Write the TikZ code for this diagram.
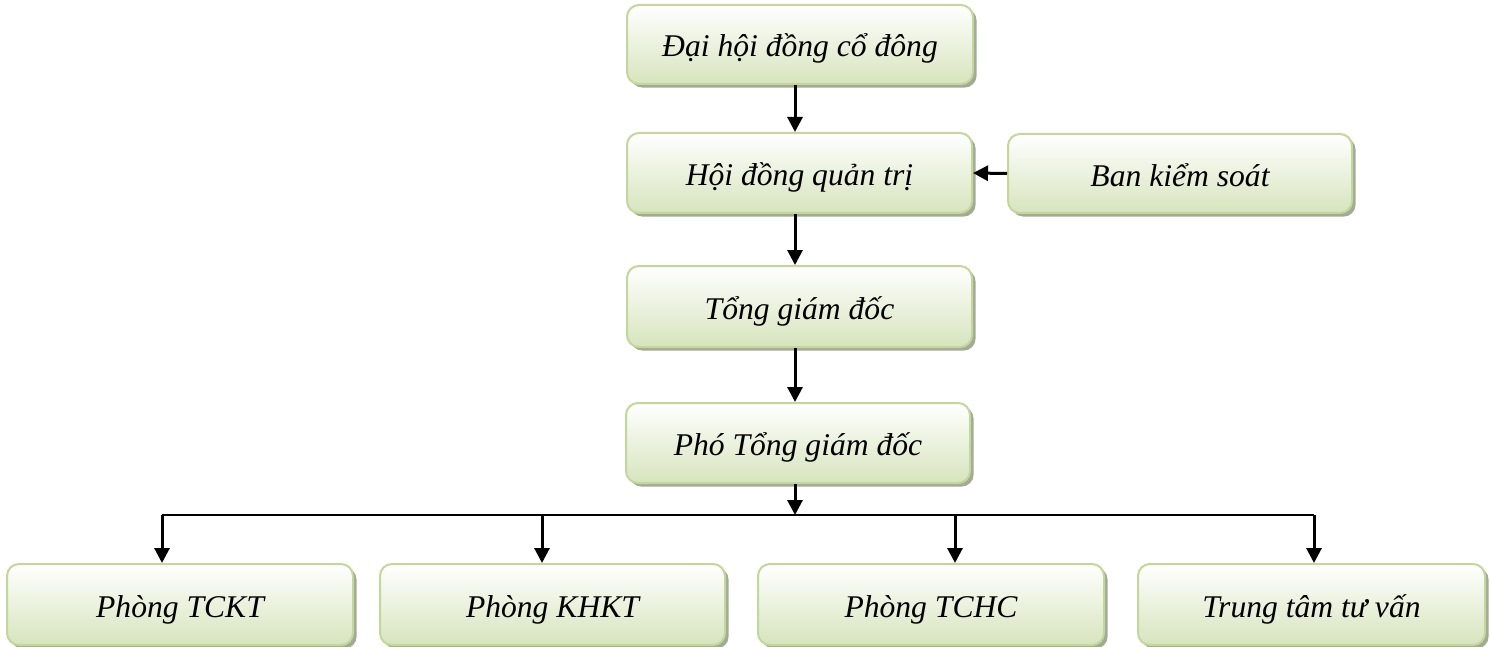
\documentclass[tikz,border=0pt]{standalone}
\usepackage{fontspec}
\setmainfont{Liberation Serif}
\usetikzlibrary{arrows.meta,shadows}
\definecolor{boxborder}{HTML}{C3D69B}
\definecolor{boxbottom}{HTML}{D7E4BD}
\definecolor{boxshadow}{HTML}{A3AA96}
\begin{document}
\begin{tikzpicture}[x=0.5pt,y=-0.5pt,
  orgbox/.style={rectangle, rounded corners=6pt, draw=boxborder, line width=1pt,
    top color=white, bottom color=boxbottom,
    drop shadow={shadow xshift=1.8pt, shadow yshift=-1.8pt, fill=boxshadow, opacity=1},
    inner sep=0pt, text height=14pt, text depth=1.5pt,
    font=\fontsize{15.8}{19}\selectfont\itshape},
  conn/.style={line width=1.5pt, -{Triangle[width=7.5pt,length=7.5pt]}},
  bus/.style={line width=1pt}]
\useasboundingbox (0,0) rectangle (1490,647);
\node[orgbox, minimum width=173pt, minimum height=39.5pt] (b1) at (800,44.5) {Đại hội đồng cổ đông};
\node[orgbox, minimum width=172.5pt, minimum height=40pt] (b2) at (799.5,173) {Hội đồng quản trị};
\node[orgbox, minimum width=172pt, minimum height=39.5pt] (bks) at (1180,173.5) {Ban kiểm soát};
\node[orgbox, minimum width=172.5pt, minimum height=40.5pt] (b3) at (799.5,306.5) {Tổng giám đốc};
\node[orgbox, minimum width=172pt, minimum height=40pt] (b4) at (798,443) {Phó Tổng giám đốc};
\node[orgbox, minimum width=173pt, minimum height=40.5pt] (p1) at (180,604.5) {Phòng TCKT};
\node[orgbox, minimum width=172.5pt, minimum height=40.5pt] (p2) at (552.5,604.5) {Phòng KHKT};
\node[orgbox, minimum width=173pt, minimum height=40.5pt] (p3) at (931,604.5) {Phòng TCHC};
\node[orgbox, minimum width=173.5pt, minimum height=40.5pt] (p4) at (1311.5,604.5) {Trung tâm tư vấn};
\coordinate (spine) at (795,0);
\coordinate (j1) at (162,515);
\coordinate (j2) at (542,515);
\coordinate (j3) at (955,515);
\coordinate (j4) at (1314,515);
\draw[conn] (b1.south -| spine) -- (b2.north -| spine);
\draw[conn] (b2.south -| spine) -- (b3.north -| spine);
\draw[conn] (b3.south -| spine) -- (b4.north -| spine);
\draw[conn] (bks.west) -- (b2.east);
\draw[conn] (b4.south -| spine) -- (spine |- j1);
\draw[bus] (j1) -- (j4);
\draw[conn] (j1) -- (j1 |- p1.north);
\draw[conn] (j2) -- (j2 |- p2.north);
\draw[conn] (j3) -- (j3 |- p3.north);
\draw[conn] (j4) -- (j4 |- p4.north);
\end{tikzpicture}
\end{document}
